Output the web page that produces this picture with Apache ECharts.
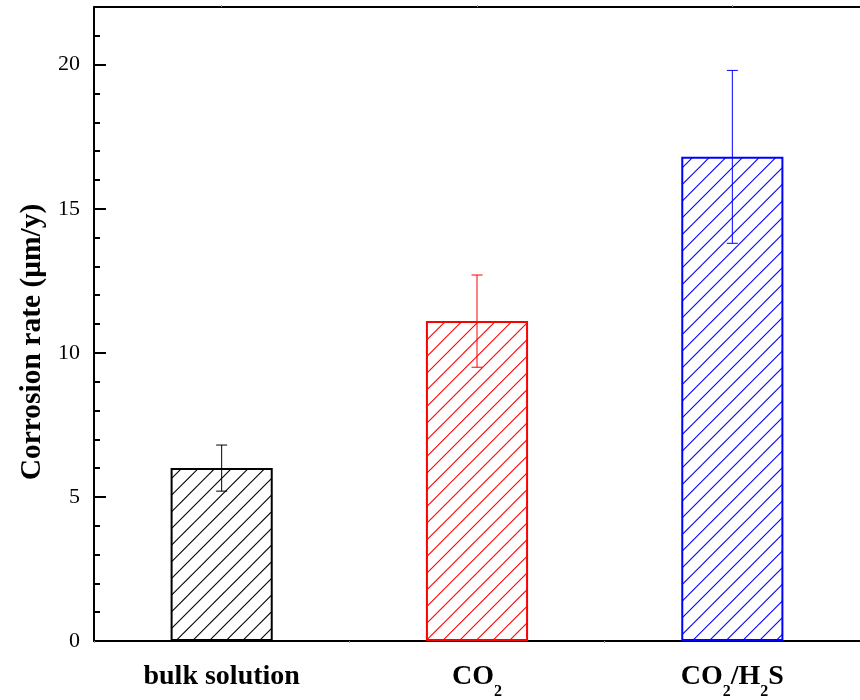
<!DOCTYPE html>
<html>
<head>
<meta charset="utf-8">
<script src="https://cdn.jsdelivr.net/npm/echarts@6/dist/echarts.min.js"></script>
<style>
  html, body { margin: 0; padding: 0; background: #fff; }
  #chart { width: 860px; height: 700px; }
</style>
</head>
<body>
<div id="chart"></div>
<script>
// Corrosion rate per environment, with standard deviation
var categories = ['bulk solution', 'CO2', 'CO2/H2S'];
var categoryLabels = ['{b|bulk solution}', '{b|CO}{s|2}', '{b|CO}{s|2}{b|/H}{s|2}{b|S}'];
var rates = [6.0, 11.1, 16.8];
var errors = [0.8, 1.6, 3.0];
var barColors = ['#000000', '#ff0000', '#0000ff'];
var yTicks = [0, 5, 10, 15, 20];

var FONT = '"Liberation Serif", "Times New Roman", serif';

// Diagonal "/" hatch fill as a repeating canvas pattern
function hatch(color) {
  var size = 50, step = size / 3;
  var c = document.createElement('canvas');
  c.width = size; c.height = size;
  var ctx = c.getContext('2d');
  ctx.strokeStyle = color;
  ctx.lineWidth = 1.1;
  for (var k = -2; k <= 8; k++) {
    var off = k * step;
    ctx.beginPath();
    ctx.moveTo(off - 70, 70);
    ctx.lineTo(off + 20, -20);
    ctx.stroke();
  }
  return { image: c, repeat: 'repeat' };
}

var barData = rates.map(function (v, i) {
  return {
    value: v,
    itemStyle: { color: hatch(barColors[i]), borderColor: barColors[i], borderWidth: 2 }
  };
});

var errData = rates.map(function (v, i) {
  return [i, v - errors[i], v + errors[i]];
});

var chart = echarts.init(document.getElementById('chart'), null, { renderer: 'canvas' });

chart.setOption({
  animation: false,
  backgroundColor: '#ffffff',
  grid: { left: 94, top: 7, bottom: 56.5, width: 778, containLabel: false },
  xAxis: [
    {
      type: 'category',
      data: categories,
      boundaryGap: true,
      axisLine: { show: true, lineStyle: { color: '#000', width: 2 } },
      axisTick: { show: true, inside: false, length: 2, lineStyle: { color: '#999', width: 1 } },
      axisLabel: {
        margin: 22,
        formatter: function (val, idx) { return categoryLabels[idx]; },
        rich: {
          b: { fontFamily: FONT, fontWeight: 'bold', fontSize: 28, color: '#000', lineHeight: 32, verticalAlign: 'top' },
          s: { fontFamily: FONT, fontWeight: 'bold', fontSize: 16, color: '#000', lineHeight: 16, verticalAlign: 'top', padding: [21, 0, 0, 0] }
        }
      },
      splitLine: { show: false }
    },
    {
      type: 'category',
      position: 'top',
      data: categories,
      axisLine: { show: true, lineStyle: { color: '#000', width: 2 } },
      axisTick: { show: true, alignWithLabel: true, inside: false, length: 2, lineStyle: { color: '#999' } },
      axisLabel: { show: false },
      splitLine: { show: false }
    }
  ],
  yAxis: {
    type: 'value',
    min: 0,
    max: 22,
    interval: 5,
    name: 'Corrosion rate (\u03bcm/y)',
    nameLocation: 'middle',
    nameGap: 46,
    nameTextStyle: { fontFamily: FONT, fontWeight: 'bold', fontSize: 29.5, color: '#000', padding: [0, 36, 0, 0] },
    axisLine: { show: true, lineStyle: { color: '#000', width: 2 } },
    axisTick: { show: true, inside: true, length: 12, lineStyle: { color: '#000', width: 2 } },
    minorTick: { show: true, splitNumber: 5, length: 6, lineStyle: { color: '#000', width: 2 } },
    axisLabel: {
      margin: 14,
      fontFamily: FONT,
      fontSize: 22,
      color: '#000',
      showMaxLabel: false,
      formatter: function (v) { return yTicks.indexOf(v) >= 0 ? String(v) : ''; }
    },
    splitLine: { show: false }
  },
  series: [
    {
      type: 'bar',
      data: barData,
      barWidth: '40%',
      z: 2
    },
    {
      type: 'custom',
      data: errData,
      z: 5,
      renderItem: function (params, api) {
        var x = api.value(0);
        var lo = api.coord([x, api.value(1)]);
        var hi = api.coord([x, api.value(2)]);
        var cap = 5.5;
        var col = barColors[params.dataIndex];
        var style = { stroke: col, lineWidth: 1 };
        return {
          type: 'group',
          children: [
            { type: 'line', shape: { x1: hi[0], y1: hi[1], x2: lo[0], y2: lo[1] }, style: style },
            { type: 'line', shape: { x1: hi[0] - cap, y1: hi[1], x2: hi[0] + cap, y2: hi[1] }, style: style },
            { type: 'line', shape: { x1: lo[0] - cap, y1: lo[1], x2: lo[0] + cap, y2: lo[1] }, style: style }
          ]
        };
      }
    }
  ]
});
</script>
</body>
</html>
